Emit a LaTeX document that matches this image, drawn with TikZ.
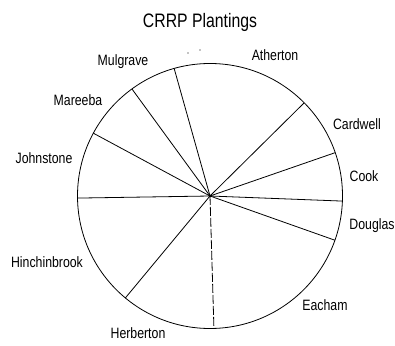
\documentclass[tikz,border=0pt]{standalone}
\usepackage{fontspec}
\setmainfont{Liberation Sans}
\newfontfamily\labfont[FakeStretch=0.82]{Liberation Sans}
\newfontfamily\titfont[FakeStretch=0.81]{Liberation Sans}
\begin{document}
\begin{tikzpicture}[x=1pt,y=1pt,
  lab/.style={font=\labfont\fontsize{15}{17}\selectfont, anchor=base, inner sep=0pt},
  tit/.style={font=\titfont\fontsize{19.5}{21}\selectfont, anchor=base, inner sep=0pt},
  spoke/.style={line width=0.8pt},
  rim/.style={line width=0.8pt}]
\useasboundingbox (0,0) rectangle (395,345);
\coordinate (c) at (210,149);
\draw[rim] (c) circle (132.5);
\foreach \n/\a in {p1/105.7,p2/126.1,p3/151.7,p4/180.9,p5/230.3,p6/271.7,p7/340.5,p8/-2.2,p9/19.1,p10/44.7}
  \coordinate (\n) at ([shift={(\a:132.5pt)}]c);
\foreach \n in {p1,p2,p3,p4,p5,p7,p8,p9,p10}
  \draw[spoke] (c) -- (\n);
\draw[spoke, dash pattern=on 9pt off 2pt] (c) -- (p6);
\fill (c) circle (1.5);
\fill (188,292) circle (0.6);
\fill (200,295) circle (0.6);
\node[tit] (title) at (200,317) {CRRP Plantings};
\node[lab] (ath) at (275,284) {Atherton};
\node[lab] (mul) at (123,279) {Mulgrave};
\node[lab] (mar) at (78,239) {Mareeba};
\node[lab] (joh) at (44,181) {Johnstone};
\node[lab] (hin) at (47,78) {Hinchinbrook};
\node[lab] (her) at (138,7) {Herberton};
\node[lab] (eac) at (325,35) {Eacham};
\node[lab] (dou) at (372,116) {Douglas};
\node[lab] (coo) at (364,163) {Cook};
\node[lab] (car) at (357,215) {Cardwell};
\end{tikzpicture}
\end{document}
